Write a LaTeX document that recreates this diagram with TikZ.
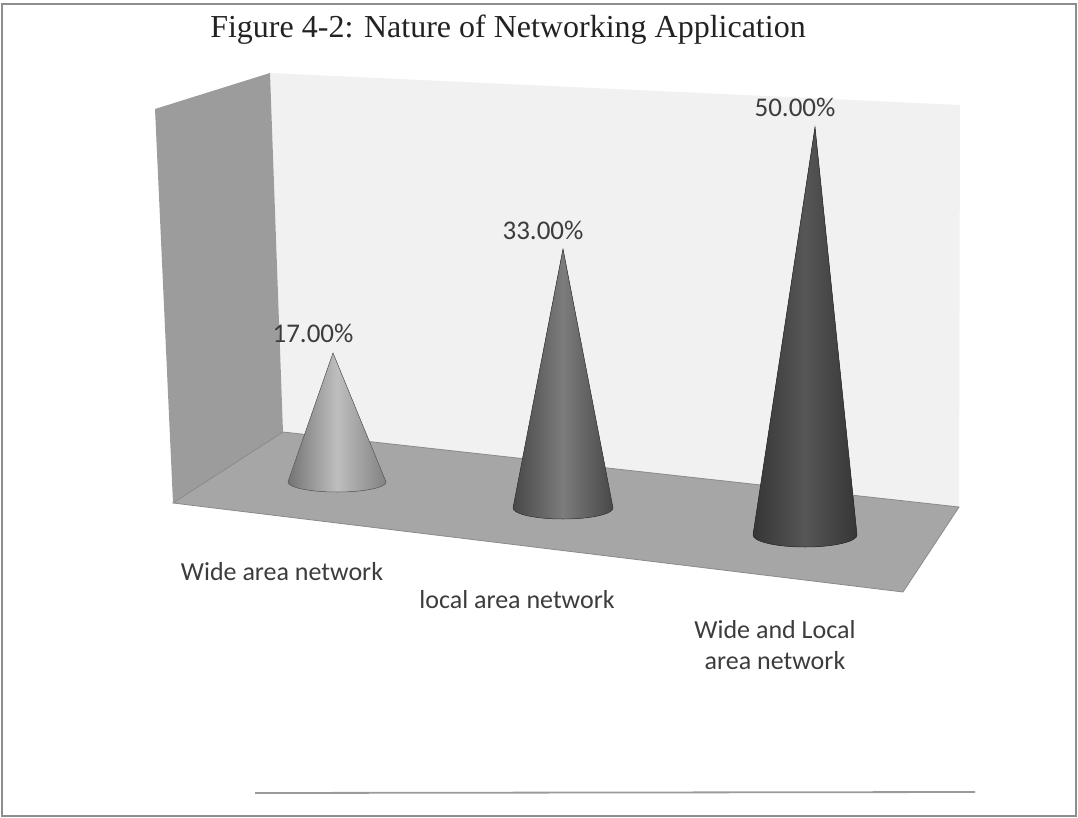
\documentclass[tikz,border=0pt]{standalone}
\usepackage{fontspec}
\setmainfont{Liberation Serif}
\newfontfamily\chartfont{Carlito}

\definecolor{framegray}{HTML}{8E8E8E}
\definecolor{rulegray}{HTML}{9A9A9A}
\definecolor{backwall}{HTML}{F1F1F1}
\definecolor{sidewall}{HTML}{9C9C9C}
\definecolor{floorfill}{HTML}{A6A6A6}
\definecolor{flooredge}{HTML}{8A8A8A}
\definecolor{labelgray}{HTML}{3C3C3C}
\definecolor{titleink}{HTML}{222222}
% cone tones: edge / highlight
\definecolor{coneAedge}{HTML}{747474}
\definecolor{coneAlight}{HTML}{BEBEBE}
\definecolor{coneBedge}{HTML}{484848}
\definecolor{coneBlight}{HTML}{7C7C7C}
\definecolor{coneCedge}{HTML}{363636}
\definecolor{coneClight}{HTML}{565656}

\begin{document}
\begin{tikzpicture}[x=1pt,y=-1pt,
  frame/.style={draw=framegray, line width=1.5pt},
  baserule/.style={draw=rulegray, line width=1.8pt},
  pct/.style={font=\chartfont\fontsize{27}{30}\selectfont, text=labelgray, inner sep=0pt},
  cat/.style={font=\chartfont\fontsize{26}{31}\selectfont, text=labelgray, inner sep=0pt, align=center},
  titletext/.style={font=\fontsize{32}{36}\selectfont, text=titleink, inner sep=0pt},
  cone/.style={draw=#1edge!85!black, line width=0.5pt},
]
\useasboundingbox (0,0) rectangle (1078,818);

% outer frame
\draw[frame] (2,4) rectangle (1076,816);

% title
\node[titletext] (title) at (508,30) {Figure 4-2: Nature of Networking Application};

% chart box corners
\coordinate (wallTopL)  at (270,73);
\coordinate (wallTopR)  at (960,105);
\coordinate (floorBL)   at (283,432);
\coordinate (floorBR)   at (959,507);
\coordinate (floorFL)   at (173,503);
\coordinate (floorFR)   at (903,592);
\coordinate (sideTop)   at (155,109);

% back wall
\fill[backwall] (wallTopL) -- (wallTopR) -- (floorBR) -- (floorBL) -- cycle;
% left side wall
\fill[sidewall] (sideTop) -- (wallTopL) -- (floorBL) -- (floorFL) -- cycle;
% floor
\filldraw[fill=floorfill, draw=flooredge, line width=0.8pt]
  (floorBL) -- (floorBR) -- (floorFR) -- (floorFL) -- cycle;

% cones (apex, left end of base, base radii)
\filldraw[cone=coneA, left color=coneAedge, right color=coneAedge!90!white, middle color=coneAlight]
  (333,353) -- (288,482) arc[start angle=180, end angle=0, x radius=49, y radius=10] -- cycle;
\filldraw[cone=coneB, left color=coneBedge, right color=coneBedge, middle color=coneBlight]
  (563,249) -- (513,508) arc[start angle=180, end angle=0, x radius=50, y radius=11] -- cycle;
\filldraw[cone=coneC, left color=coneCedge, right color=coneCedge, middle color=coneClight]
  (815,127) -- (753,535) arc[start angle=180, end angle=0, x radius=52, y radius=12] -- cycle;

% value labels
\node[pct] (v17) at (313,333) {17.00\%};
\node[pct] (v33) at (543,230) {33.00\%};
\node[pct] (v50) at (795,107) {50.00\%};

% category labels
\node[cat] (wan)  at (282,572) {Wide area network};
\node[cat] (lan)  at (517,600) {local area network};
\node[cat] (both) at (775,645) {Wide and Local\\area network};

% rule under the chart
\draw[baserule] (255,793) -- (975,792);
\end{tikzpicture}
\end{document}
